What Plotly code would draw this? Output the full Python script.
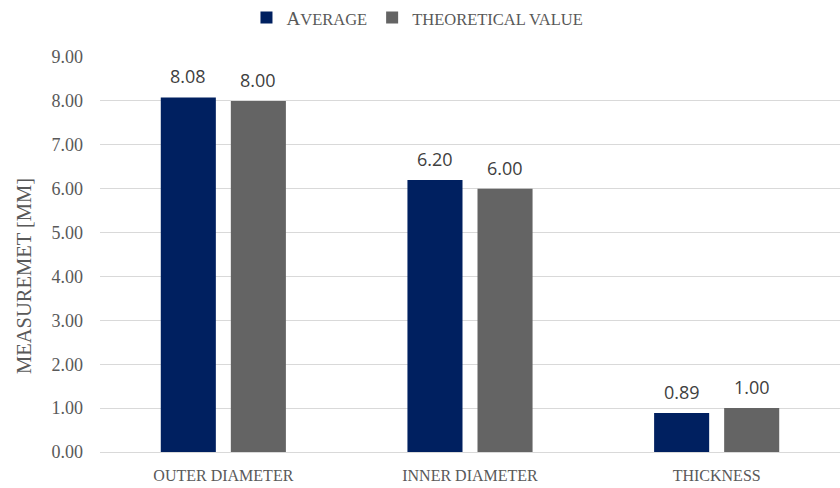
import plotly.graph_objects as go

# Measured dimensions of the part (mm)
categories = ["OUTER DIAMETER", "INNER DIAMETER", "THICKNESS"]
average = [8.08, 6.20, 0.89]
theoretical = [8.00, 6.00, 1.00]

series_names = [
    "A<span style='font-size:16.5px'>VERAGE</span>",
    "<span style='font-size:16.5px'>THEORETICAL VALUE</span>",
]
y_title = "MEASUREMET [MM]"
y_ticks = [0, 1, 2, 3, 4, 5, 6, 7, 8, 9]

NAVY = "#002060"
GREY = "#646464"
SERIF = "Liberation Serif"
BAR_GAP = 0.432
GROUP_GAP = 0.214

fig = go.Figure()
fig.add_trace(go.Bar(name=series_names[0], x=categories, y=average,
                     marker_color=NAVY, marker_line_width=0))
fig.add_trace(go.Bar(name=series_names[1], x=categories, y=theoretical,
                     marker_color=GREY, marker_line_width=0))

# Value labels above each bar, centred on the bar within its group
slot = (1 - BAR_GAP) / 2
for k, vals in enumerate([average, theoretical]):
    off = (k - 0.5) * slot
    for i, v in enumerate(vals):
        fig.add_annotation(x=i + off, y=v, xref="x", yref="y",
                           text=f"{v:.2f}", showarrow=False,
                           yanchor="bottom", yshift=7,
                           font=dict(family="Open Sans", size=18, color="#404040"))

# Vertical axis title, set a little below the middle of the axis
fig.add_annotation(text=y_title, textangle=-90, showarrow=False,
                   xref="paper", yref="paper", x=-0.103, y=0.445,
                   xanchor="center", yanchor="middle",
                   font=dict(family=SERIF, size=20.5, color="#595959"))

fig.update_layout(
    width=840, height=488,
    margin=dict(l=100, r=0, t=57, b=36),
    plot_bgcolor="white", paper_bgcolor="white",
    barmode="group", bargap=BAR_GAP, bargroupgap=GROUP_GAP,
    font=dict(family=SERIF, color="#595959"),
    showlegend=True,
    legend=dict(orientation="h", xref="container", yref="container",
                x=0.497, y=0.964, xanchor="center", yanchor="middle",
                font=dict(family=SERIF, size=19, color="#595959"),
                itemwidth=30, traceorder="normal"),
)
fig.update_xaxes(showgrid=False, showline=True, linecolor="#d9d9d9", linewidth=1,
                 ticks="", tickfont=dict(family=SERIF, size=16, color="#595959"),
                 ticklabelstandoff=9)
fig.update_yaxes(range=[0, 9], tickvals=y_ticks, tickformat=".2f",
                 showgrid=True, gridcolor="#d9d9d9", gridwidth=1,
                 zeroline=False, showline=False, ticks="",
                 tickfont=dict(family=SERIF, size=18, color="#595959"),
                 ticklabelstandoff=16)

fig.write_html("out.html")
